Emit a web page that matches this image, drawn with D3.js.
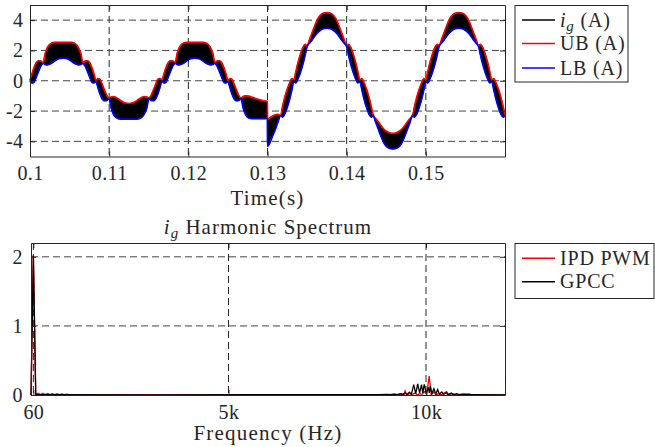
<!DOCTYPE html>
<html><head><meta charset="utf-8">
<script src="https://cdn.jsdelivr.net/npm/d3@7"></script>
<style>
body{margin:0;background:#fff}
svg{display:block}
text{font-family:"Liberation Serif","Times New Roman",serif;fill:#262626}
</style></head><body>
<svg id="c" width="655" height="447"></svg>
<script>
// ---------- time-domain data (ms, A) ----------
const timeMs = [
100.00,100.25,100.50,100.80,101.10,101.40,101.67,101.90,102.20,102.60,103.10,103.60,104.17,104.70,105.20,105.70,106.10,106.45,106.67,106.93,107.23,107.53,107.83,108.08,
108.33,108.58,108.83,109.13,109.43,109.73,110.00,110.23,110.53,110.93,111.43,111.93,112.50,113.03,113.53,114.03,114.43,114.78,115.00,115.26,115.56,115.86,116.16,116.41,
116.67,116.92,117.17,117.47,117.77,118.07,118.34,118.57,118.87,119.27,119.77,120.27,120.84,121.37,121.87,122.37,122.77,123.12,123.34,123.60,123.90,124.20,124.50,124.75,
125.00,125.25,125.50,125.80,126.10,126.40,126.67,126.90,127.20,127.60,128.10,128.60,129.17,129.70,129.99,
130.00,130.30,130.60,131.00,131.30,131.67,131.88,132.18,132.50,132.83,133.08,
133.33,133.58,133.83,134.16,134.48,134.78,135.00,135.33,135.66,135.98,136.29,136.63,137.03,137.50,137.96,138.36,138.70,139.01,139.33,139.66,140.00,140.21,140.51,140.83,141.16,141.41,
141.67,141.92,142.17,142.50,142.82,143.12,143.34,143.67,144.00,144.32,144.63,144.97,145.37,145.84,146.30,146.70,147.04,147.35,147.67,148.00,148.34,148.55,148.85,149.17,149.50,149.75,
150.00,150.25,150.50,150.83,151.15,151.45,151.67,152.00,152.33,152.65,152.96,153.30,153.70,154.17,154.63,155.03,155.37,155.68,156.00,156.33,156.67,156.88,157.18,157.50,157.83,158.08,
158.33,158.58,158.83,159.16,159.48,159.78,160.00
];
const ubA = [
0.05,0.45,0.85,1.2,1.32,1.3,1.18,1.75,2.2,2.45,2.53,2.53,2.53,2.53,2.53,2.45,2.2,1.75,1.18,1.3,1.32,1.2,0.85,0.45,
0.02,0.15,0.1,-0.25,-0.65,-1.0,-1.15,-1.08,-1.05,-1.12,-1.3,-1.45,-1.5,-1.45,-1.3,-1.12,-1.05,-1.08,-1.15,-1.0,-0.65,-0.25,0.1,0.15,
0.05,0.45,0.85,1.2,1.32,1.3,1.18,1.75,2.2,2.45,2.53,2.53,2.53,2.53,2.53,2.45,2.2,1.75,1.18,1.3,1.32,1.2,0.85,0.45,
0.02,0.15,0.1,-0.25,-0.65,-1.0,-1.15,-1.05,-1.0,-1.02,-1.1,-1.2,-1.28,-1.34,-1.37,
-2.57,-2.45,-2.35,-2.25,-2.22,-2.3,-1.75,-1.1,-0.55,-0.1,0.15,
0.05,0.6,1.15,1.75,2.2,2.4,2.28,2.75,3.2,3.65,4.03,4.3,4.45,4.5,4.45,4.3,4.03,3.65,3.2,2.75,2.28,2.4,2.2,1.75,1.15,0.6,
0.05,0.15,-0.1,-0.55,-1.1,-1.75,-2.26,-2.5,-2.71,-2.95,-3.15,-3.32,-3.43,-3.48,-3.43,-3.32,-3.15,-2.95,-2.71,-2.5,-2.26,-1.75,-1.1,-0.55,-0.1,0.15,
0.05,0.6,1.15,1.75,2.2,2.4,2.28,2.75,3.2,3.65,4.03,4.3,4.45,4.5,4.45,4.3,4.03,3.65,3.2,2.75,2.28,2.4,2.2,1.75,1.15,0.6,
0.05,0.15,-0.1,-0.55,-1.1,-1.75,-2.26
];
const lbA = [
-0.02,-0.15,-0.1,0.25,0.65,1.0,1.15,1.08,1.05,1.12,1.3,1.45,1.5,1.45,1.3,1.12,1.05,1.08,1.15,1.0,0.65,0.25,-0.1,-0.15,
-0.05,-0.45,-0.85,-1.2,-1.32,-1.3,-1.18,-1.75,-2.2,-2.45,-2.53,-2.53,-2.53,-2.53,-2.53,-2.45,-2.2,-1.75,-1.18,-1.3,-1.32,-1.2,-0.85,-0.45,
-0.02,-0.15,-0.1,0.25,0.65,1.0,1.15,1.08,1.05,1.12,1.3,1.45,1.5,1.45,1.3,1.12,1.05,1.08,1.15,1.0,0.65,0.25,-0.1,-0.15,
-0.05,-0.45,-0.85,-1.2,-1.32,-1.3,-1.18,-1.75,-2.2,-2.45,-2.5,-2.5,-2.5,-2.5,-2.48,
-4.33,-4.1,-3.7,-3.2,-2.75,-2.3,-2.4,-2.2,-1.75,-1.15,-0.6,
-0.05,-0.15,0.1,0.55,1.1,1.75,2.26,2.5,2.71,2.95,3.15,3.32,3.43,3.48,3.43,3.32,3.15,2.95,2.71,2.5,2.26,1.75,1.1,0.55,0.1,-0.15,
-0.05,-0.6,-1.15,-1.75,-2.2,-2.4,-2.28,-2.75,-3.2,-3.65,-4.03,-4.3,-4.45,-4.5,-4.45,-4.3,-4.03,-3.65,-3.2,-2.75,-2.28,-2.4,-2.2,-1.75,-1.15,-0.6,
-0.05,-0.15,0.1,0.55,1.1,1.75,2.26,2.5,2.71,2.95,3.15,3.32,3.43,3.48,3.43,3.32,3.15,2.95,2.71,2.5,2.26,1.75,1.1,0.55,0.1,-0.15,
-0.05,-0.6,-1.15,-1.75,-2.2,-2.4,-2.28
];
const timeTicks = [0.1,0.11,0.12,0.13,0.14,0.15];
const timeTickLabels = ["0.1","0.11","0.12","0.13","0.14","0.15"];
const ampTicks = [-4,-2,0,2,4];
const ampTickLabels = ["-4","-2","0","2","4"];
const topLegend = ["i_g (A)","UB (A)","LB (A)"];

// ---------- spectrum data (Hz, A) ----------
const freqIPD = [0,60,120,180,240,300,360,420,480,540,600,660,720,780,840,900,1000,5000,8000,9000,9200,9300,9380,9440,9470,9510,9600,9650,9720,9780,9850,9900,9960,10020,10080,10130,10200,10260,10320,10400,10520,10570,10680,10740,10900,11100,11150,12000];
const magIPD  = [0,2.02,0.01,0.025,0.006,0.025,0.006,0.022,0.006,0.02,0.005,0.018,0.005,0.015,0.004,0.012,0.003,0.002,0.003,0.006,0.01,0.004,0.02,0.005,0.06,0.005,0.02,0.005,0.03,0.005,0.02,0.01,0.05,0.01,0.275,0.01,0.04,0.005,0.02,0.005,0.048,0.005,0.02,0.004,0.01,0.015,0.003,0.002];
const freqGPCC = [0,60,120,600,3000,8000,8800,9000,9100,9200,9280,9350,9410,9470,9520,9580,9630,9690,9740,9790,9840,9885,9920,9955,10010,10060,10085,10110,10150,10200,10250,10295,10340,10400,10450,10510,10560,10640,10700,10780,10840,10950,11050,11200,12000];
const magGPCC  = [0,2.02,0.004,0.004,0.003,0.004,0.006,0.01,0.004,0.012,0.004,0.02,0.005,0.03,0.008,0.04,0.01,0.15,0.02,0.16,0.03,0.15,0.03,0.155,0.02,0.11,0.03,0.13,0.02,0.09,0.015,0.08,0.01,0.045,0.008,0.035,0.006,0.03,0.005,0.02,0.004,0.012,0.004,0.006,0.003];
const freqTicks = [60,5000,10000];
const freqTickLabels = ["60","5k","10k"];
const magTicks = [0,1,2];
const magTickLabels = ["0","1","2"];
const bottomLegend = ["IPD PWM","GPCC"];

// ---------- drawing ----------
const AX = "#262626", FS = 20;
const svg = d3.select("#c");

function grid(g, xs, ys, xv, yv, x0, x1, y0, y1) {
  g.selectAll(".gv").data(xv).enter().append("line")
    .attr("x1", d => xs(d)).attr("x2", d => xs(d)).attr("y1", y0).attr("y2", y1)
    .attr("stroke", AX).attr("stroke-width", 1).attr("stroke-dasharray", "7,4");
  g.selectAll(".gh").data(yv).enter().append("line")
    .attr("x1", x0).attr("x2", x1).attr("y1", d => ys(d)).attr("y2", d => ys(d))
    .attr("stroke", "#444").attr("stroke-width", 1).attr("stroke-dasharray", "7,4");
}
function axes(g, xs, ys, xv, xl, yv, yl, xpad, ypad) {
  const [x0, x1] = xs.range(), [y0, y1] = ys.range();
  const b = g.append("g").attr("transform", `translate(0,${y0})`)
    .call(d3.axisBottom(xs).tickValues(xv).tickFormat((d, i) => xl[i]).tickSize(-5).tickSizeOuter(0).tickPadding(xpad));
  const t = g.append("g").attr("transform", `translate(0,${y1})`)
    .call(d3.axisTop(xs).tickValues(xv).tickFormat("").tickSize(-5).tickSizeOuter(0));
  const l = g.append("g").attr("transform", `translate(${x0},0)`)
    .call(d3.axisLeft(ys).tickValues(yv).tickFormat((d, i) => yl[i]).tickSize(-5).tickSizeOuter(0).tickPadding(ypad));
  const r = g.append("g").attr("transform", `translate(${x1},0)`)
    .call(d3.axisRight(ys).tickValues(yv).tickFormat("").tickSize(-5).tickSizeOuter(0));
  [b, t, l, r].forEach(a => {
    a.selectAll("path,line").attr("stroke", AX);
    a.selectAll("text").attr("fill", AX).style("font-size", FS + "px")
      .style("font-family", '"Liberation Serif", serif').style("letter-spacing", "0.4px");
  });
}
function legend(g, x, y, w, h, items) {
  g.append("rect").attr("x", x).attr("y", y).attr("width", w).attr("height", h)
    .attr("fill", "#fff").attr("stroke", AX).attr("stroke-width", 1);
  items.forEach(it => {
    g.append("line").attr("x1", x + 7).attr("x2", x + 40).attr("y1", it.y).attr("y2", it.y)
      .attr("stroke", it.c).attr("stroke-width", 1.5);
    const t = g.append("text").attr("x", x + 45).attr("y", it.y + 6.5)
      .style("font-size", "20px").style("letter-spacing", "0.8px");
    if (it.sub) {
      t.append("tspan").attr("font-style", "italic").text("i");
      t.append("tspan").attr("font-style", "italic").attr("font-size", "15px").attr("dy", 4).text("g");
      t.append("tspan").attr("dy", -4).text("\u00A0(A)");
    } else t.text(it.label);
  });
}

// ===== top plot =====
const xT = d3.scaleLinear().domain([0.1, 0.16]).range([30, 505]);
const yT = d3.scaleLinear().domain([-5, 5]).range([156.5, 5]);
const gT = svg.append("g");
grid(gT, xT, yT, timeTicks.slice(1), ampTicks, 30, 505, 5, 156.5);

const sig = timeMs.map((t, i) => ({ t: t / 1000, ub: ubA[i], lb: lbA[i] }));
gT.append("path").datum(sig)
  .attr("d", d3.area().x(d => xT(d.t)).y0(d => yT(d.lb)).y1(d => yT(d.ub)).curve(d3.curveMonotoneX))
  .attr("fill", "#000").attr("stroke", "#000").attr("stroke-width", 0.8);
gT.append("path").datum(sig)
  .attr("d", d3.line().x(d => xT(d.t)).y(d => yT(d.ub)).curve(d3.curveMonotoneX))
  .attr("fill", "none").attr("stroke", "#ff0000").attr("stroke-width", 1.7);
gT.append("path").datum(sig)
  .attr("d", d3.line().x(d => xT(d.t)).y(d => yT(d.lb)).curve(d3.curveMonotoneX))
  .attr("fill", "none").attr("stroke", "#0000ff").attr("stroke-width", 1.7);
axes(gT, xT, yT, timeTicks, timeTickLabels, ampTicks, ampTickLabels, 9, 6.5);
gT.append("text").attr("x", 267.5).attr("y", 205).attr("text-anchor", "middle")
  .style("font-size", "21px").style("letter-spacing", "1.2px").text("Time(s)");
legend(gT, 515, 5.5, 113, 76.5, [
  { c: "#000", sub: true, y: 20 },
  { c: "#ff0000", label: topLegend[1], y: 43.5 },
  { c: "#0000ff", label: topLegend[2], y: 68 }
]);

// ===== bottom plot =====
const xB = d3.scaleLinear().domain([0, 12000]).range([31, 505]);
const yB = d3.scaleLinear().domain([0, 2.2]).range([395, 243]);
const gB = svg.append("g");
grid(gB, xB, yB, freqTicks, magTicks.slice(1), 31, 505, 243, 395);
const lineB = d3.line().x(d => xB(d[0])).y(d => yB(d[1]));
gB.append("path").datum(freqIPD.map((f, i) => [f, magIPD[i]]))
  .attr("d", lineB).attr("fill", "none").attr("stroke", "#ff0000").attr("stroke-width", 1.3);
gB.append("path").datum(freqGPCC.map((f, i) => [f, magGPCC[i]]))
  .attr("d", lineB).attr("fill", "none").attr("stroke", "#000").attr("stroke-width", 1.3);
axes(gB, xB, yB, freqTicks, freqTickLabels, magTicks, magTickLabels, 10, 8);
const ttl = gB.append("text").attr("x", 268).attr("y", 234).attr("text-anchor", "middle")
  .style("font-size", "21px").style("letter-spacing", "1px");
ttl.append("tspan").attr("font-style", "italic").text("i");
ttl.append("tspan").attr("font-style", "italic").attr("font-size", "15px").attr("dy", 4).text("g");
ttl.append("tspan").attr("dy", -4).text("\u00A0Harmonic Spectrum");
gB.append("text").attr("x", 268).attr("y", 440).attr("text-anchor", "middle")
  .style("font-size", "21px").style("letter-spacing", "1.2px").text("Frequency (Hz)");
legend(gB, 515, 243.5, 139, 55, [
  { c: "#ff0000", label: bottomLegend[0], y: 258.3 },
  { c: "#000", label: bottomLegend[1], y: 281.7 }
]);
</script>
</body></html>
